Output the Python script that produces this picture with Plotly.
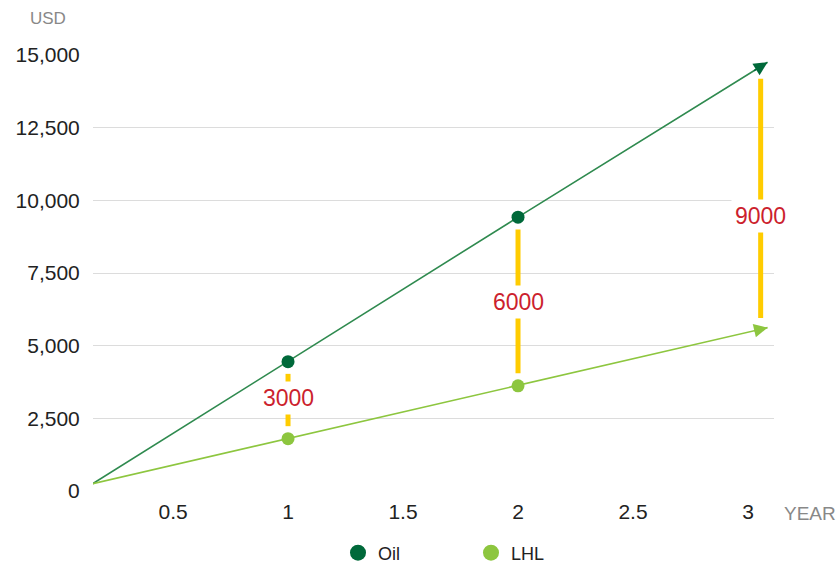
import plotly.graph_objects as go

# ---- data ----
years_line = [0.15, 1, 2, 3.085]
oil_values = [250, 4450, 9420, 14750]
lhl_values = [250, 1800, 3620, 5620]
marker_years = [1, 2]
oil_marker_values = [4450, 9420]
lhl_marker_values = [1800, 3620]
gap_years = [1, 2, 3.055]
gap_top = [4450, 9420, 14600]
gap_bottom = [1800, 3620, 5520]
gap_labels = ["3000", "6000", "9000"]
gap_label_y = [3200, 6500, 9450]
x_ticks = [0.5, 1, 1.5, 2, 2.5, 3]
x_tick_text = ["0.5", "1", "1.5", "2", "2.5", "3"]
y_ticks = [0, 2500, 5000, 7500, 10000, 12500, 15000]
y_tick_text = ["0", "2,500", "5,000", "7,500", "10,000", "12,500", "15,000"]

OIL_DARK = "#00693a"
OIL_LINE = "#2f8a4f"
LHL_COL = "#8dc63f"
YELLOW = "#ffcc00"
RED = "#cc1f2e"
FONT = "Liberation Sans"

fig = go.Figure()

# yellow difference bars (inset from the markers)
pad_top, pad_bot = 420, 430
for i, x in enumerate(gap_years):
    fig.add_trace(go.Scatter(
        x=[x, x], y=[gap_bottom[i] + pad_bot, gap_top[i] - pad_top],
        mode="lines", line=dict(color=YELLOW, width=5),
        showlegend=False, hoverinfo="skip"))

# lines
fig.add_trace(go.Scatter(x=years_line, y=oil_values, mode="lines",
                         line=dict(color=OIL_LINE, width=1.6),
                         showlegend=False, hoverinfo="skip"))
fig.add_trace(go.Scatter(x=years_line, y=lhl_values, mode="lines",
                         line=dict(color=LHL_COL, width=1.6),
                         showlegend=False, hoverinfo="skip"))
# markers
fig.add_trace(go.Scatter(x=marker_years, y=oil_marker_values, mode="markers",
                         marker=dict(color=OIL_DARK, size=13),
                         showlegend=False))
fig.add_trace(go.Scatter(x=marker_years, y=lhl_marker_values, mode="markers",
                         marker=dict(color=LHL_COL, size=13),
                         showlegend=False))
# legend entries
fig.add_trace(go.Scatter(x=[None], y=[None], mode="markers", name="Oil",
                         marker=dict(color=OIL_DARK, size=16)))
fig.add_trace(go.Scatter(x=[None], y=[None], mode="markers", name="LHL",
                         marker=dict(color=LHL_COL, size=16)))

annotations = []
# arrowheads
for vals, col in [(oil_values, OIL_DARK), (lhl_values, LHL_COL)]:
    x1, y1 = years_line[-1], vals[-1]
    x0, y0 = years_line[-2], vals[-2]
    t = 0.06
    annotations.append(dict(
        x=x1, y=y1, xref="x", yref="y",
        ax=x1 - (x1 - x0) * t, ay=y1 - (y1 - y0) * t, axref="x", ayref="y",
        showarrow=True, arrowhead=2, arrowsize=1.7, arrowwidth=1.6,
        arrowcolor=col, text=""))
# difference labels
for i, x in enumerate(gap_years):
    annotations.append(dict(
        x=x, y=gap_label_y[i], xref="x", yref="y", text=gap_labels[i], showarrow=False,
        font=dict(family=FONT, size=23, color=RED),
        bgcolor="white", borderpad=3))
# axis titles
annotations.append(dict(text="USD", x=0, y=1, xref="paper", yref="paper",
                        xanchor="center", yanchor="middle", xshift=-45, yshift=37,
                        showarrow=False, font=dict(family=FONT, size=17, color="#888")))
annotations.append(dict(text="YEAR", x=1.0, y=0, xref="paper", yref="paper",
                        xanchor="left", yanchor="middle", xshift=8, yshift=-22,
                        showarrow=False, font=dict(family=FONT, size=19, color="#888")))

fig.update_layout(
    width=838, height=570,
    margin=dict(l=93, r=64, t=55, b=79),
    paper_bgcolor="white", plot_bgcolor="white",
    font=dict(family=FONT, size=21, color="#222"),
    xaxis=dict(range=[0.152, 3.113], tickvals=x_ticks, ticktext=x_tick_text,
               showgrid=False, zeroline=False, showline=False,
               ticks="outside", ticklen=2, tickcolor="rgba(0,0,0,0)",
               tickfont=dict(family=FONT, size=21, color="#222"), automargin=False),
    yaxis=dict(range=[0, 15000], tickvals=y_ticks, ticktext=y_tick_text,
               showgrid=True, gridcolor="#dcdcdc", gridwidth=1, zeroline=False,
               showline=False, ticks="outside", ticklen=8, tickcolor="rgba(0,0,0,0)",
               tickfont=dict(family=FONT, size=21, color="#222"), automargin=False),
    showlegend=True,
    legend=dict(orientation="h", x=338 / 838, xanchor="left", xref="container",
                y=(570 - 553) / 570, yanchor="middle", yref="container",
                font=dict(family=FONT, size=18, color="#222"),
                entrywidth=88, itemwidth=30, traceorder="normal"),
    annotations=annotations,
)

fig.write_html("out.html", config={"displayModeBar": False},
               post_script="document.body.style.margin='0';")
